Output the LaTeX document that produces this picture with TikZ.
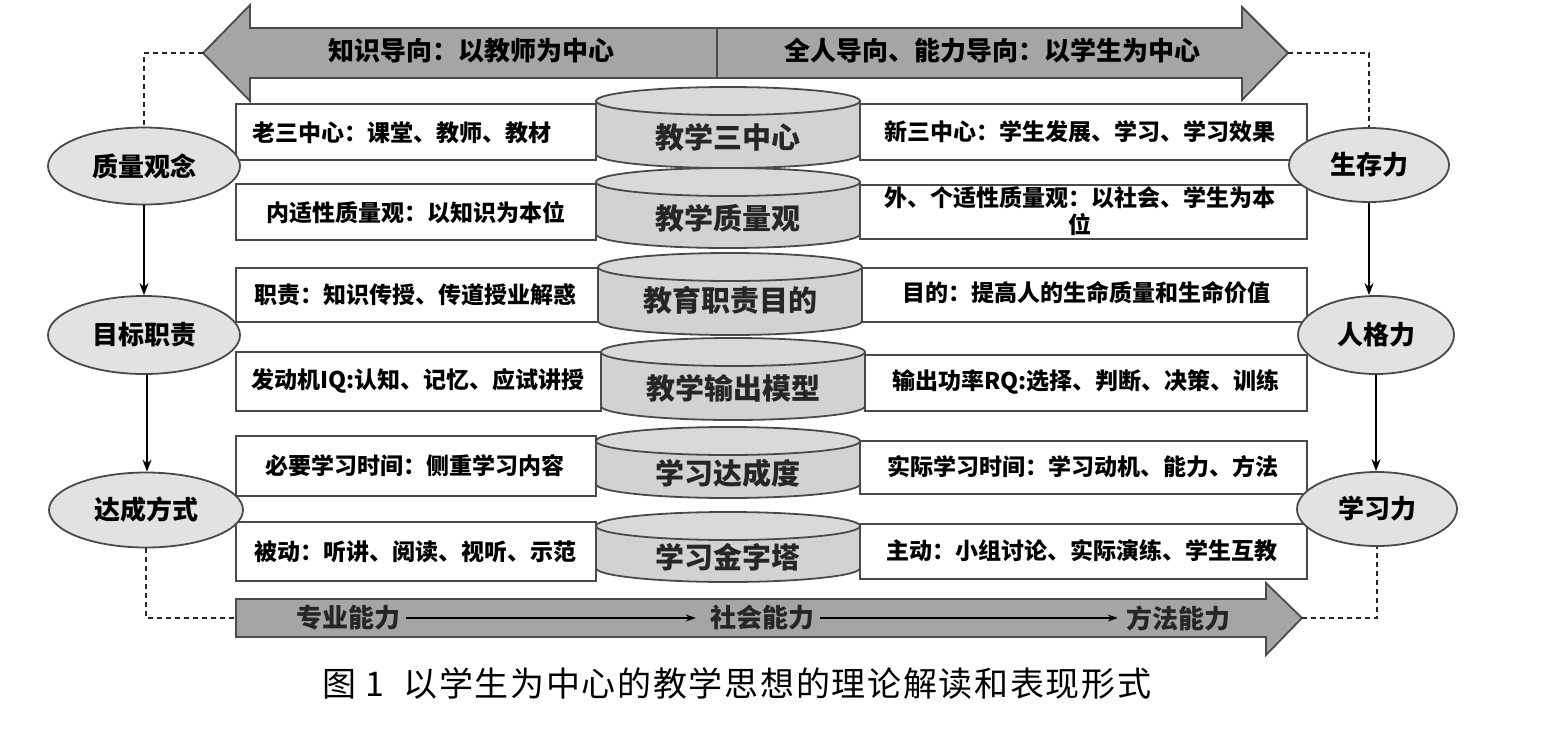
\documentclass[tikz,border=0pt]{standalone}
\usepackage{fontspec}
\newfontfamily\cjk{Noto Sans CJK SC}
\usetikzlibrary{arrows.meta,shapes.geometric}
\definecolor{arrowgray}{HTML}{A5A5A5}
\definecolor{cylgray}{HTML}{D2D2D2}
\definecolor{cyltop}{HTML}{D9D9D9}
\definecolor{ellgray}{HTML}{E2E2E2}
\definecolor{linegray}{HTML}{4A4A4A}
\newcommand\drawcylinder[3]{%
  \fill[cylgray] (#1-132,#2) -- (#1-132,#3) arc[start angle=180,end angle=0,x radius=132,y radius=14] -- (#1+132,#2) -- cycle;
  \draw[cylline] (#1-132,#2) -- (#1-132,#3) arc[start angle=180,end angle=0,x radius=132,y radius=14] -- (#1+132,#2);
  \draw[cylline,fill=cyltop] (#1,#2) ellipse[x radius=132,y radius=14];
}
\begin{document}
\begin{tikzpicture}[x=1pt,y=-1pt,
  bigarrow/.style={draw=linegray,line width=1.8pt,fill=arrowgray,line join=miter},
  textbox/.style={draw=linegray,line width=1.6pt,fill=white},
  cylline/.style={draw=linegray,line width=1.8pt},
  lab/.style={font=\cjk\bfseries\fontsize{23}{28}\selectfont,text=black,inner sep=0pt,align=center},
  cyltext/.style={font=\cjk\bfseries\fontsize{29}{32}\selectfont,text=black!85,inner sep=0pt},
  bigtext/.style={font=\cjk\bfseries\fontsize{26}{30}\selectfont,text=black,inner sep=0pt},
  arrtext/.style={font=\cjk\bfseries\fontsize{26}{30}\selectfont,text=black!85,inner sep=6pt},
  oval/.style={ellipse,draw=linegray,line width=1.8pt,fill=ellgray,inner sep=0pt,font=\cjk\bfseries\fontsize{26}{30}\selectfont},
  flow/.style={draw=black,line width=1.6pt,-{Stealth[length=12pt,width=9pt]}},
  thin/.style={draw=black,line width=1.4pt,-{Stealth[length=10pt,width=7pt]}},
  dashlink/.style={draw=black!85,line width=1.6pt,dash pattern=on 5pt off 4pt}
]
\useasboundingbox (0,0) rectangle (1544,755);

% top double arrow
\draw[bigarrow] (717,28) -- (250,28) -- (250,5) -- (203,53) -- (250,101) -- (250,78) -- (717,78) -- cycle;
\draw[bigarrow] (717,28) -- (1242,28) -- (1242,7) -- (1288,53) -- (1242,100) -- (1242,78) -- (717,78) -- cycle;
\coordinate (tl) at (203,53);
\coordinate (tr) at (1288,53);
\node[bigtext] (t1) at (471,51) {知识导向：以教师为中心};
\node[bigtext] (t2) at (992,51) {全人导向、能力导向：以学生为中心};

% left boxes
\draw[textbox] (236,104) rectangle (596,160);
\draw[textbox] (236,184) rectangle (596,240);
\draw[textbox] (236,268) rectangle (598,322);
\draw[textbox] (236,352) rectangle (601,411);
\draw[textbox] (236,436) rectangle (596,496);
\draw[textbox] (236,522) rectangle (596,581);
% right boxes
\draw[textbox] (860,104) rectangle (1307,160);
\draw[textbox] (860,185) rectangle (1307,239);
\draw[textbox] (862,268) rectangle (1307,322);
\draw[textbox] (865,355) rectangle (1307,411);
\draw[textbox] (860,441) rectangle (1307,494);
\draw[textbox] (860,524) rectangle (1307,579);

\node[lab] (l1) at (402,133) {老三中心：课堂、教师、教材};
\node[lab] (l2) at (416,213) {内适性质量观：以知识为本位};
\node[lab] (l3) at (415,295) {职责：知识传授、传道授业解惑};
\node[lab] (l4) at (418,381) {发动机IQ:认知、记忆、应试讲授};
\node[lab] (l5) at (415,466) {必要学习时间：侧重学习内容};
\node[lab] (l6) at (415,552) {被动：听讲、阅读、视听、示范};

\node[lab] (r1) at (1080,132) {新三中心：学生发展、学习、学习效果};
\node[lab] (r2) at (1080,211) {外、个适性质量观：以社会、学生为本\\[-1pt]位};
\node[lab] (r3) at (1086,293) {目的：提高人的生命质量和生命价值};
\node[lab] (r4) at (1086,382) {输出功率RQ:选择、判断、决策、训练};
\node[lab] (r5) at (1083,467) {实际学习时间：学习动机、能力、方法};
\node[lab] (r6) at (1082,551) {主动：小组讨论、实际演练、学生互教};

% cylinders
\drawcylinder{728}{101}{154}
\node[cyltext] (c1) at (728,137) {教学三中心};
\drawcylinder{728}{182}{234}
\node[cyltext] (c2) at (728,218) {教学质量观};
\drawcylinder{730}{267}{321}
\node[cyltext] (c3) at (730,300) {教育职责目的};
\drawcylinder{733}{352}{406}
\node[cyltext] (c4) at (733,388) {教学输出模型};
\drawcylinder{728}{441}{484}
\node[cyltext] (c5) at (728,473) {学习达成度};
\drawcylinder{728}{526}{568}
\node[cyltext] (c6) at (728,557) {学习金字塔};

% bottom arrow
\draw[bigarrow] (236,599) -- (1266,599) -- (1266,583) -- (1302,618) -- (1266,655) -- (1266,637) -- (236,637) -- cycle;
\coordinate (bl) at (234,618);
\coordinate (br) at (1302,618);
\node[arrtext] (zy) at (348,618) {专业能力};
\node[arrtext] (sh) at (762,618) {社会能力};
\node[arrtext] (ff) at (1178,618) {方法能力};
\draw[thin] (zy.east) -- ([xshift=-8pt]sh.west);
\draw[thin] (sh.east) -- ([xshift=-2pt]ff.west);

% ellipses
\node[oval,minimum width=192pt,minimum height=77pt] (q) at (144,166) {质量观念};
\node[oval,minimum width=192pt,minimum height=78pt] (m) at (144,335) {目标职责};
\node[oval,minimum width=194pt,minimum height=75pt] (d) at (146,510) {达成方式};
\node[oval,minimum width=160pt,minimum height=74pt] (s) at (1369,165) {生存力};
\node[oval,minimum width=156pt,minimum height=78pt] (r) at (1376,335) {人格力};
\node[oval,minimum width=160pt,minimum height=74pt] (x) at (1377,509) {学习力};

\draw[flow] (q.south) -- (q.south |- m.north);
\draw[flow] ([xshift=3pt]m.south) -- ([xshift=3pt]m.south |- d.north);
\draw[flow] (s.south) -- (s.south |- r.north);
\draw[flow] (r.south) -- (r.south |- x.north);

\draw[dashlink] (tl) -| (q.north);
\draw[dashlink] (tr) -| (s.north);
\draw[dashlink] (d.south) |- (bl);
\draw[dashlink] (br) -| (x.south);

% caption
\node[font=\cjk\fontsize{34}{38}\selectfont\addfontfeatures{LetterSpace=5},text=black,inner sep=0pt] (cap) at (737,684) {图 1\ \ 以学生为中心的教学思想的理论解读和表现形式};
\end{tikzpicture}
\end{document}
